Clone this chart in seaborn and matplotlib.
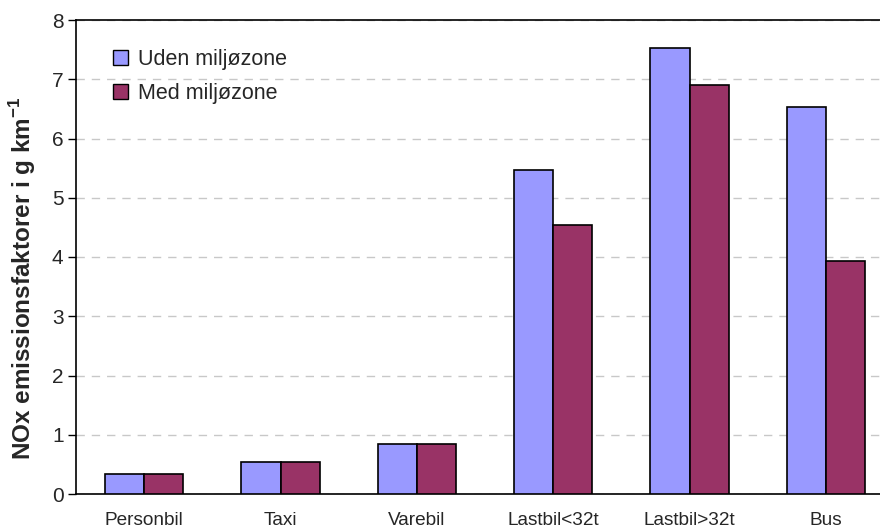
import matplotlib
matplotlib.use("Agg")
import matplotlib.pyplot as plt
import seaborn as sns
import pandas as pd
import numpy as np

categories = ["Personbil", "Taxi", "Varebil", "Lastbil<32t", "Lastbil>32t", "Bus"]
uden = [0.34, 0.54, 0.84, 5.46, 7.53, 6.54]
med = [0.34, 0.54, 0.84, 4.54, 6.91, 3.93]
series = ["Uden miljøzone", "Med miljøzone"]
colors = ["#9999FF", "#993366"]

df = pd.DataFrame({
    "Kategori": categories * 2,
    "Værdi": uden + med,
    "Serie": [series[0]] * len(categories) + [series[1]] * len(categories),
})

sns.set_style("white")
plt.rcParams["font.family"] = ["Liberation Sans", "DejaVu Sans"]

fig = plt.figure(figsize=(8.8, 5.28), dpi=100)
W, H = 880, 528
ax = fig.add_axes([76 / W, 34 / H, 818 / W, 474 / H])

sns.barplot(data=df, x="Kategori", y="Værdi", hue="Serie", palette=colors,
            order=categories, hue_order=series, width=0.575, gap=0,
            edgecolor="black", linewidth=1.2, saturation=1, ax=ax, zorder=3)

ax.set_xlim(-0.5, len(categories) - 0.5)
ax.set_ylim(0, 8)
ax.set_yticks(np.arange(0, 9, 1))
ax.yaxis.grid(True, linestyle=(0, (6, 5)), color="#C8C8C8", linewidth=1, zorder=0)
ax.xaxis.grid(False)

# category labels centred, tick marks on category boundaries
ax.set_xticks(range(len(categories)))
ax.set_xticklabels(categories, fontsize=13.7)
ax.tick_params(axis="x", which="major", length=0, pad=13)
ax.set_xticks(np.arange(-0.5, len(categories), 1), minor=True)
ax.tick_params(axis="x", which="minor", length=6, width=1, direction="out", color="black")
ax.tick_params(axis="y", length=6, width=1, direction="out", color="black",
               labelsize=15, pad=3, left=True)

ax.set_xlabel("")
ax.set_ylabel("NOx emissionsfaktorer i g km$^{\\mathregular{-1}}$", fontsize=17.5,
              fontweight="bold")
ax.yaxis.set_label_coords(-38 / 818, 0.455)

for s in ["left", "bottom", "top", "right"]:
    ax.spines[s].set_color("black")
    ax.spines[s].set_linewidth(1.2)

leg = ax.legend(loc="upper left", bbox_to_anchor=(0.024, 0.975), frameon=False,
                fontsize=15.5, handlelength=0.7, handleheight=0.7, handletextpad=0.45,
                labelspacing=0.6, borderpad=0.3)
for h in leg.legend_handles:
    h.set_edgecolor("black")
    h.set_linewidth(1)

fig.savefig("out.png", dpi=100)
